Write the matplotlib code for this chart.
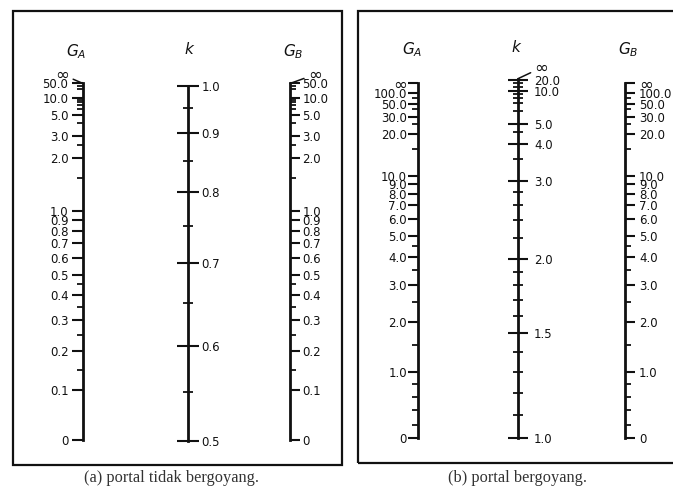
import numpy as np
import matplotlib
matplotlib.use("Agg")
import matplotlib.pyplot as plt
from matplotlib.patches import Rectangle
from matplotlib.ticker import NullFormatter

plt.rcParams["font.family"] = ["DejaVu Sans"]
plt.rcParams["mathtext.fontset"] = "dejavusans"

# ---------------- data: nomograph graduations ----------------
G_INF = 1e9  # stands for the "infinity" graduation

# (a) braced frame
a_G_major = [0, 0.1, 0.2, 0.3, 0.4, 0.5, 0.6, 0.7, 0.8, 0.9, 1.0, 2.0, 3.0, 5.0, 10.0, 50.0]
a_G_labels = ["0", "0.1", "0.2", "0.3", "0.4", "0.5", "0.6", "0.7", "0.8", "0.9",
              "1.0", "2.0", "3.0", "5.0", "10.0", "50.0"]
a_G_minor = [0.15, 0.25, 0.35, 0.45, 1.5, 2.5, 4.0, 6.0, 7.0, 8.0, 9.0, 20.0, 30.0]
a_k_major = [0.5, 0.6, 0.7, 0.8, 0.9, 1.0]
a_k_labels = ["0.5", "0.6", "0.7", "0.8", "0.9", "1.0"]
a_k_minor = [0.55, 0.65, 0.75, 0.85, 0.95]

# (b) sway frame
b_G_major = [0, 1.0, 2.0, 3.0, 4.0, 5.0, 6.0, 7.0, 8.0, 9.0, 10.0, 20.0, 30.0, 50.0, 100.0, G_INF]
b_G_labels = ["0", "1.0", "2.0", "3.0", "4.0", "5.0", "6.0", "7.0", "8.0", "9.0",
              "10.0", "20.0", "30.0", "50.0", "100.0", "\u221e"]
b_G_minor = [0.2, 0.4, 0.6, 0.8, 1.5, 2.5, 3.5, 4.5, 15.0, 25.0, 40.0, 70.0]
b_k_major = [1.0, 1.5, 2.0, 3.0, 4.0, 5.0, 10.0, 20.0]
b_k_labels = ["1.0", "1.5", "2.0", "3.0", "4.0", "5.0", "10.0", "20.0"]
b_k_minor = [1.1, 1.2, 1.3, 1.4, 1.6, 1.7, 1.8, 1.9, 2.2, 2.4, 2.6, 2.8,
             3.5, 4.5, 6.0, 7.0, 8.0, 9.0, 12.0, 15.0]

titles_a = [r"$G_A$", r"$k$", r"$G_B$"]
titles_b = [r"$G_A$", r"$k$", r"$G_B$"]
caption_a = "(a) portal tidak bergoyang."
caption_b = "(b) portal bergoyang."

# ---------------- scale functions (fitted nomograph graduations) ----------------
def g_scale(p, c):
    def fwd(v):
        v = np.asarray(v, dtype=float)
        out = np.zeros_like(v)
        pos = v > 0
        out[pos] = 1.0 / (1.0 + c * v[pos] ** (-p))
        return out
    def inv(f):
        f = np.clip(np.asarray(f, dtype=float), 0.0, 1 - 1e-12)
        return (c * f / (1.0 - f)) ** (1.0 / p)
    return fwd, inv

def k_braced_scale(a=1.42):
    def fwd(k):
        t = (np.asarray(k, dtype=float) - 0.5) / 0.5
        return a * t - (a - 1) * t ** 2
    def inv(f):
        f = np.clip(np.asarray(f, dtype=float), -0.5, a * a / (4 * (a - 1)) - 1e-9)
        t = (a - np.sqrt(a * a - 4 * (a - 1) * f)) / (2 * (a - 1))
        return 0.5 + 0.5 * t
    return fwd, inv

def k_sway_scale(c0=-0.03, c1=1.291, c2=0.0574):
    def fwd(k):
        s = np.log(np.maximum(np.asarray(k, dtype=float) - 1.0, 1e-4))
        return 1.0 / (1.0 + np.exp(-(c0 + c1 * s + c2 * s * s)))
    grid = 1.0 + np.logspace(-4, 9, 4000)
    fgrid = fwd(grid)
    def inv(f):
        return np.interp(np.asarray(f, dtype=float), fgrid, grid)
    return fwd, inv

# ---------------- figure ----------------
W, H = 673, 487
fig = plt.figure(figsize=(W / 100, H / 100), dpi=100)
fig.patch.set_facecolor("white")

def fx(x):
    return x / W

def fy(y):
    return 1 - y / H

INK = "#111111"
LABEL_SIZE = 8.5

def scale_axis(x_line, y_bot, y_top, funcs, side, lims, bounds, major, labels, minor,
               kind, pad, maj_len, min_len):
    w = 0.02
    left = fx(x_line) if side == "left" else fx(x_line) - w
    ax = fig.add_axes([left, fy(y_bot), w, (y_bot - y_top) / H])
    ax.set_yscale("function", functions=funcs)
    ax.set_ylim(*lims)
    ax.set_xlim(0, 1)
    ax.patch.set_visible(False)
    for sp in ax.spines.values():
        sp.set_visible(False)
    sp = ax.spines[side]
    sp.set_visible(True)
    sp.set_linewidth(2.0)
    sp.set_color(INK)
    sp.set_bounds(*bounds)
    ax.set_xticks([])
    ax.yaxis.set_ticks_position(side)
    ax.set_yticks(major)
    tl = ax.set_yticklabels(labels)
    ax.set_yticks(minor, minor=True)
    ax.yaxis.set_minor_formatter(NullFormatter())
    direction = "inout" if kind == "k" else "out"
    ax.tick_params(axis="y", which="major", direction=direction, length=maj_len,
                   width=1.5, pad=pad, labelsize=LABEL_SIZE, colors=INK)
    ax.tick_params(axis="y", which="minor", direction=direction, length=min_len,
                   width=1.3, colors=INK)
    for t in tl:
        if t.get_text() == "\u221e":
            t.set_fontsize(12)
    return ax

# panel (a)
gA = g_scale(1.04, 0.572)
kA = k_braced_scale()
ax_aGA = scale_axis(83, 440, 80, gA, "left", (0, G_INF), (0, 50.0),
                    a_G_major, a_G_labels, a_G_minor, "g", 2.5, 8, 4)
ax_ak = scale_axis(188, 441, 86, kA, "right", (0.5, 1.0), (0.5, 1.0),
                   a_k_major, a_k_labels, a_k_minor, "k", 1.5, 16, 7)
ax_aGB = scale_axis(290, 440, 80, gA, "right", (0, G_INF), (0, 50.0),
                    a_G_major, a_G_labels, a_G_minor, "g", 2.0, 7, 4)

# panel (b)
gB = g_scale(1.09, 4.38)
kB = k_sway_scale()
ax_bGA = scale_axis(418, 438, 83, gB, "left", (0, G_INF), (0, G_INF),
                    b_G_major, b_G_labels, b_G_minor, "g", 1.0, 7, 4)
ax_bk = scale_axis(518, 438, 75, kB, "right", (1.0, G_INF), (1.0, 24.0),
                   b_k_major, b_k_labels, b_k_minor, "k", 4.5, 14, 7)
ax_bGB = scale_axis(625, 438, 83, gB, "right", (0, G_INF), (0, G_INF),
                    b_G_major, b_G_labels, b_G_minor, "g", 3.0, 7, 4)

# infinity leaders
leader = dict(arrowstyle="-", lw=1.1, color=INK, shrinkA=1, shrinkB=0)
ax_aGA.annotate("\u221e", xy=(0, 50.0), xycoords=ax_aGA.get_yaxis_transform(),
                xytext=(-15, 6.5), textcoords="offset points", ha="center", va="center",
                fontsize=12, color=INK, arrowprops=leader)
ax_aGB.annotate("\u221e", xy=(1, 50.0), xycoords=ax_aGB.get_yaxis_transform(),
                xytext=(18, 6.5), textcoords="offset points", ha="center", va="center",
                fontsize=12, color=INK, arrowprops=leader)
ax_bk.annotate("\u221e", xy=(1, 24.0), xycoords=ax_bk.get_yaxis_transform(),
               xytext=(17, 8), textcoords="offset points", ha="center", va="center",
               fontsize=12, color=INK, arrowprops=leader)

# scale titles
for (x, y), t in zip([(76, 52), (190, 49), (293, 52)], titles_a):
    fig.text(fx(x), fy(y), t, ha="center", va="center", fontsize=11, color=INK)
for (x, y), t in zip([(412, 50), (517, 47), (628, 50)], titles_b):
    fig.text(fx(x), fy(y), t, ha="center", va="center", fontsize=11, color=INK)

# frames
fig.add_artist(Rectangle((fx(13), fy(465)), fx(342) - fx(13), fy(11) - fy(465),
                         transform=fig.transFigure, fill=False, lw=1.6, ec=INK))
fig.add_artist(Rectangle((fx(358), fy(463)), fx(690) - fx(358), fy(11) - fy(463),
                         transform=fig.transFigure, fill=False, lw=1.6, ec=INK,
                         clip_on=False))

# captions
fig.text(fx(172), fy(478), caption_a, ha="center", va="center",
         family=["Liberation Serif", "DejaVu Serif"], fontsize=11.8, color="#333333")
fig.text(fx(518), fy(478), caption_b, ha="center", va="center",
         family=["Liberation Serif", "DejaVu Serif"], fontsize=11.8, color="#333333")

fig.savefig("out.png", dpi=100, facecolor="white")
